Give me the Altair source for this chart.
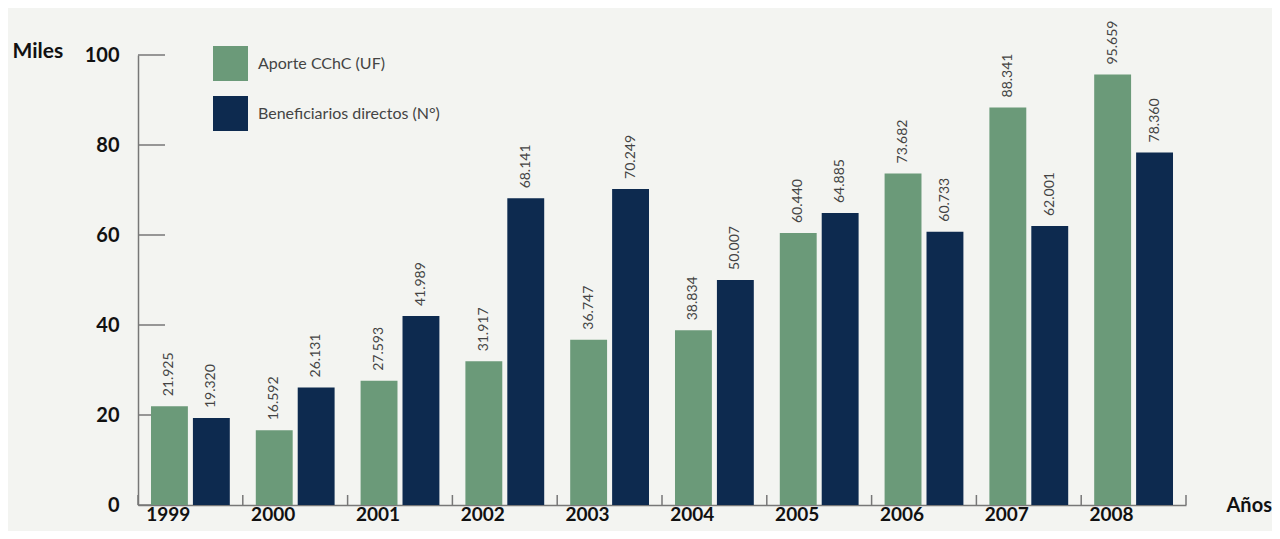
import altair as alt
import pandas as pd

years = ["1999", "2000", "2001", "2002", "2003", "2004", "2005", "2006", "2007", "2008"]
aporte = [21.925, 16.592, 27.593, 31.917, 36.747, 38.834, 60.440, 73.682, 88.341, 95.659]
benef = [19.320, 26.131, 41.989, 68.141, 70.249, 50.007, 64.885, 60.733, 62.001, 78.360]
series = ["Aporte CChC (UF)", "Beneficiarios directos (N°)"]
colors = ["#6b9a79", "#0d2a4f"]
yticks = [0, 20, 40, 60, 80, 100]

rows = []
for i, y in enumerate(years):
    rows.append({"year": y, "serie": series[0], "value": aporte[i]})
    rows.append({"year": y, "serie": series[1], "value": benef[i]})
df = pd.DataFrame(rows)
tick_df = pd.DataFrame({"t": yticks})
edge_df = pd.DataFrame({"year": years})

W, H = 1048, 450
FONT = "Lato"

xscale = alt.Scale(domain=years, paddingInner=0, paddingOuter=0)
yscale = alt.Scale(domain=[0, 100])
offscale = alt.Scale(domain=series, paddingInner=0.12, paddingOuter=0.31)

bars = alt.Chart(df).mark_bar().encode(
    x=alt.X("year:N", scale=xscale, sort=years,
            axis=alt.Axis(title="Años", titleAngle=0, titleAlign="left", titleBaseline="middle",
                          titleX=1088, titleY=0, titleFontSize=20, titleFont=FONT, titleFontWeight="bold",
                          titleColor="#111", labelAngle=0, labelFontSize=19, labelFont=FONT,
                          labelFontWeight="bold", labelColor="#111", labelPadding=9, ticks=False,
                          domainColor="#777", domainWidth=1.5)),
    xOffset=alt.XOffset("serie:N", sort=series, scale=offscale),
    y=alt.Y("value:Q", scale=yscale,
            axis=alt.Axis(values=yticks, title="Miles", titleAngle=0, titleAlign="left",
                          titleBaseline="middle", titleX=-126, titleY=-4, titleFontSize=21,
                          titleFont=FONT, titleFontWeight="bold", titleColor="#111",
                          labelFontSize=20, labelFont=FONT, labelFontWeight="bold", labelColor="#111",
                          labelPadding=19, ticks=False, grid=False, domainColor="#777", domainWidth=1.5)),
    color=alt.Color("serie:N", sort=series, scale=alt.Scale(domain=series, range=colors),
                    legend=alt.Legend(title=None, orient="none", legendX=75, legendY=-9,
                                      symbolType="square", symbolSize=1225, symbolStrokeWidth=0,
                                      symbolOpacity=1, rowPadding=15, labelFontSize=16,
                                      labelFont=FONT, labelColor="#444", labelOffset=10,
                                      labelLimit=0)),
)

labels = alt.Chart(df).mark_text(angle=270, align="left", baseline="middle", dx=10,
                                 fontSize=14, font=FONT, color="#444").encode(
    x=alt.X("year:N", scale=xscale, sort=years),
    xOffset=alt.XOffset("serie:N", sort=series, scale=offscale),
    y=alt.Y("value:Q", scale=yscale),
    text=alt.Text("value:Q", format=".3f"),
)

yt = alt.Chart(tick_df).mark_rule(color="#777", strokeWidth=1.5).encode(
    y=alt.Y("t:Q", scale=yscale), x=alt.value(0), x2=alt.value(27))

xt = alt.Chart(edge_df).mark_rule(color="#777", strokeWidth=1.5).encode(
    x=alt.X("year:N", scale=xscale, sort=years, bandPosition=0),
    y=alt.value(H), y2=alt.value(H - 10))

xt_end = alt.Chart(pd.DataFrame({"year": [years[-1]]})).mark_rule(color="#777", strokeWidth=1.5).encode(
    x=alt.X("year:N", scale=xscale, sort=years, bandPosition=1),
    y=alt.value(H), y2=alt.value(H - 10))

chart = alt.layer(yt, xt, xt_end, bars, labels).properties(
    width=W, height=H,
    autosize=alt.AutoSizeParams(type="none"),
    padding={"left": 130, "top": 47, "right": 86, "bottom": 26},
    background="#f3f4f1",
).configure_view(stroke=None)

chart.save("out.html", embed_options={"renderer": "svg", "actions": False})
